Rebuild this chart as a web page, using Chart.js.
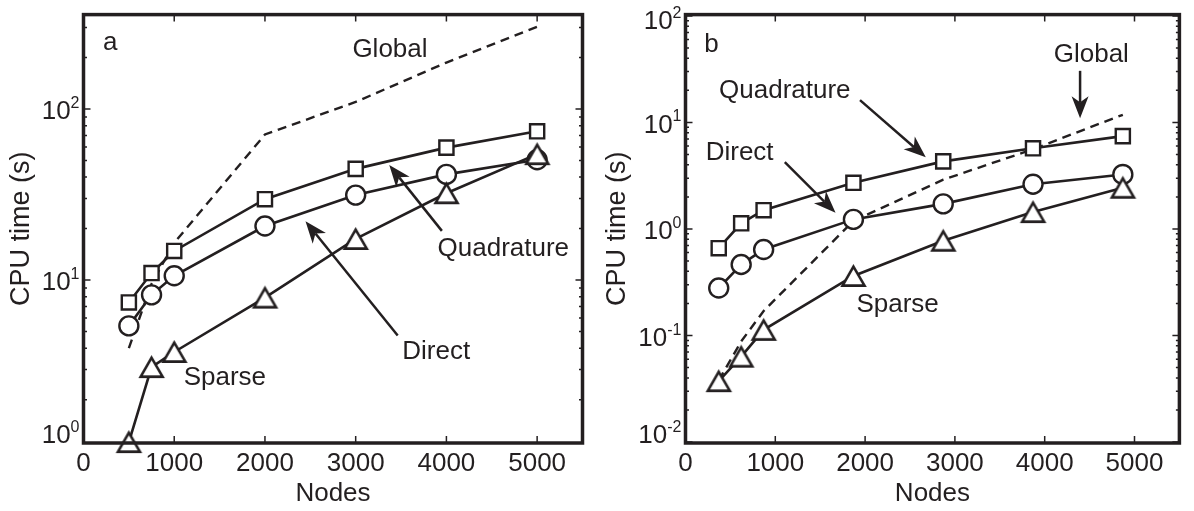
<!DOCTYPE html>
<html>
<head>
<meta charset="utf-8">
<script src="https://cdn.jsdelivr.net/npm/chart.js@4.4.1/dist/chart.umd.min.js"></script>
<style>
  html, body { margin: 0; padding: 0; background: #fff; }
  #wrap { position: relative; width: 1194px; height: 511px; overflow: hidden; }
  canvas { position: absolute; top: 0; }
</style>
</head>
<body>
<div id="wrap">
  <canvas id="chartA" width="598" height="511" style="left:0"></canvas>
  <canvas id="chartB" width="594" height="511" style="left:600px"></canvas>
</div>
<script>
// panel a
const nodesA = [500, 750, 1000, 2000, 3000, 4000, 5000];
const quadratureA = [7.4, 11.0, 14.8, 29.7, 44.7, 59.5, 74.1];
const directA = [5.4, 8.2, 10.6, 20.7, 31.4, 41.5, 50.5];
const sparseA = [1.13, 3.1, 3.8, 7.9, 17.4, 32.2, 54.5];
const globalA = [4.0, 9.5, 16.5, 71, 110, 187, 303];

// panel b
const nodesB = [370, 620, 870, 1870, 2870, 3870, 4870];
const quadratureB = [0.66, 1.13, 1.50, 2.71, 4.31, 5.72, 7.44];
const directB = [0.279, 0.464, 0.641, 1.23, 1.72, 2.63, 3.25];
const sparseB = [0.0373, 0.0633, 0.113, 0.362, 0.776, 1.44, 2.44];
const globalB = [0.038, 0.088, 0.17, 1.19, 2.9, 5.6, 11.8];

const xTicks = [0, 1000, 2000, 3000, 4000, 5000];
const yTicksA = [1, 10, 100];
const yTicksB = [0.01, 0.1, 1, 10, 100];

// text and arrows, in data coordinates
const labelsA = [
  { text: "a", x: 294, y: 243 },
  { text: "Global", x: 3378, y: 222 },
  { text: "Quadrature", x: 4627, y: 15.2 },
  { text: "Direct", x: 3887, y: 3.81 },
  { text: "Sparse", x: 1558, y: 2.68 },
];
const arrowsA = [
  { from: [3950, 19.4], to: [3370, 47.1] },
  { from: [3463, 4.74], to: [2447, 22.1] },
];
const labelsB = [
  { text: "b", x: 290, y: 53.7 },
  { text: "Global", x: 4519, y: 43.4 },
  { text: "Quadrature", x: 1106, y: 20 },
  { text: "Direct", x: 603, y: 5.22 },
  { text: "Sparse", x: 2362, y: 0.196 },
];
const arrowsB = [
  { from: [4394, 30.5], to: [4394, 10.96] },
  { from: [1943, 16.2], to: [2676, 4.7] },
  { from: [1106, 4.23], to: [1671, 1.42] },
];

const INK = "#231f20";
const FONT = "'Liberation Sans', Arial, sans-serif";
Chart.defaults.font.family = FONT;
Chart.defaults.color = INK;

function triangleMarker(w, h, lw) {
  const pad = lw + 2;
  const c = document.createElement("canvas");
  c.width = w + pad * 2;
  c.height = h + pad * 2;
  const g = c.getContext("2d");
  g.lineWidth = lw;
  g.strokeStyle = INK;
  g.fillStyle = "#fff";
  g.beginPath();
  g.moveTo(c.width / 2, pad);
  g.lineTo(pad + w, pad + h);
  g.lineTo(pad, pad + h);
  g.closePath();
  g.fill();
  g.stroke();
  return c;
}
const tri = triangleMarker(22, 19, 2.6);

function xy(xs, ys) {
  return xs.map((x, i) => ({ x: x, y: ys[i] }));
}

function drawArrow(ctx, x1, y1, x2, y2) {
  const a = Math.atan2(y2 - y1, x2 - x1);
  const len = 22, half = 8.5;
  const bx = x2 - Math.cos(a) * len, by = y2 - Math.sin(a) * len;
  const nx = x2 - Math.cos(a) * len * 0.72, ny = y2 - Math.sin(a) * len * 0.72;
  ctx.beginPath();
  ctx.moveTo(x1, y1);
  ctx.lineTo(nx, ny);
  ctx.lineWidth = 2.5;
  ctx.stroke();
  ctx.beginPath();
  ctx.moveTo(x2, y2);
  ctx.lineTo(bx - Math.sin(a) * half, by + Math.cos(a) * half);
  ctx.lineTo(nx, ny);
  ctx.lineTo(bx + Math.sin(a) * half, by - Math.cos(a) * half);
  ctx.closePath();
  ctx.fill();
}

const frame = {
  id: "frame",
  afterDatasetsDraw(chart, args, opts) {
    const { ctx, chartArea: ca, scales } = chart;
    const x = scales.x, y = scales.y;
    ctx.save();
    ctx.strokeStyle = INK;
    ctx.lineWidth = 1.5;
    ctx.beginPath();
    xTicks.forEach((v) => {
      const px = x.getPixelForValue(v);
      ctx.moveTo(px, ca.bottom); ctx.lineTo(px, ca.bottom - 7);
      ctx.moveTo(px, ca.top); ctx.lineTo(px, ca.top + 7);
    });
    const d0 = Math.floor(Math.log10(y.min)), d1 = Math.ceil(Math.log10(y.max));
    for (let d = d0; d <= d1; d++) {
      for (let k = 1; k <= 9; k++) {
        const v = k * Math.pow(10, d);
        if (v < y.min || v > y.max) continue;
        const py = y.getPixelForValue(v);
        const l = k === 1 ? 7 : 3.5;
        ctx.moveTo(ca.left, py); ctx.lineTo(ca.left + l, py);
        ctx.moveTo(ca.right, py); ctx.lineTo(ca.right - l, py);
      }
    }
    ctx.stroke();
    ctx.lineWidth = 3.5;
    ctx.strokeRect(ca.left, ca.top, ca.right - ca.left, ca.bottom - ca.top);
    ctx.restore();
  },
  afterDraw(chart, args, opts) {
    const { ctx, chartArea: ca, scales } = chart;
    const x = scales.x, y = scales.y;
    ctx.save();
    ctx.fillStyle = INK;
    ctx.strokeStyle = INK;
    // y tick labels as 10 with exponent
    opts.yTicks.forEach((v) => {
      let cy = y.getPixelForValue(v) + 1;
      cy = Math.max(ca.top + 5, Math.min(ca.bottom - 9, cy));
      const exp = String(Math.round(Math.log10(v)));
      ctx.font = "16px " + FONT;
      const ew = ctx.measureText(exp).width;
      ctx.font = "26px " + FONT;
      const bw = ctx.measureText("10").width;
      const xr = ca.left - 4;
      ctx.textAlign = "left";
      ctx.textBaseline = "alphabetic";
      ctx.fillText("10", xr - ew - bw, cy + 9.3);
      ctx.font = "16px " + FONT;
      ctx.fillText(exp, xr - ew, cy - 2);
    });
    ctx.font = "26px " + FONT;
    ctx.textAlign = "center";
    ctx.textBaseline = "middle";
    opts.labels.forEach((t) => {
      ctx.fillText(t.text, x.getPixelForValue(t.x), y.getPixelForValue(t.y));
    });
    opts.arrows.forEach((a) => {
      drawArrow(ctx,
        x.getPixelForValue(a.from[0]), y.getPixelForValue(a.from[1]),
        x.getPixelForValue(a.to[0]), y.getPixelForValue(a.to[1]));
    });
    ctx.restore();
  },
};

function makeChart(id, nodes, quad, direct, sparse, glob, yMin, yMax, yWidth, padRight, yTicks, labels, arrows, titlePad) {
  const ctx = document.getElementById(id).getContext("2d");
  return new Chart(ctx, {
    type: "line",
    data: {
      datasets: [
        {
          data: xy(nodes, sparse), borderColor: INK, borderWidth: 2.6,
          pointStyle: tri, pointRadius: 12, clip: false,
        },
        {
          data: xy(nodes, direct), borderColor: INK, borderWidth: 2.6,
          pointStyle: "circle", pointRadius: 9.5, pointBorderWidth: 2.4,
          pointBackgroundColor: "#fff", pointBorderColor: INK, clip: false,
        },
        {
          data: xy(nodes, quad), borderColor: INK, borderWidth: 2.6,
          pointStyle: "rect", pointRadius: 10, pointBorderWidth: 2.4,
          pointBackgroundColor: "#fff", pointBorderColor: INK, clip: false,
        },
        {
          data: xy(nodes, glob), borderColor: INK, borderWidth: 2.4,
          borderDash: [9, 6], pointRadius: 0, clip: false,
        },
      ],
    },
    options: {
      responsive: false,
      animation: false,
      layout: { padding: { top: 6, right: padRight, left: 0, bottom: 0 } },
      plugins: {
        legend: { display: false },
        tooltip: { enabled: false },
        frame: { yTicks: yTicks, labels: labels, arrows: arrows },
      },
      scales: {
        x: {
          type: "linear", min: 0, max: 5500,
          afterBuildTicks: (s) => { s.ticks = xTicks.map((v) => ({ value: v })); },
          afterFit: (s) => { s.height = 68; },
          grid: { display: false, drawTicks: false },
          border: { display: false },
          ticks: { font: { size: 26 }, padding: 5, color: INK, maxRotation: 0, callback: (v) => String(v) },
          title: { display: true, text: "Nodes", font: { size: 26 }, padding: { top: 0, bottom: 2 }, color: INK },
        },
        y: {
          type: "logarithmic", min: yMin, max: yMax,
          afterFit: (s) => { s.width = yWidth; },
          grid: { display: false, drawTicks: false },
          border: { display: false },
          ticks: { display: false },
          title: { display: true, text: "CPU time (s)", font: { size: 27 }, padding: { top: titlePad, bottom: 0 }, color: INK },
        },
      },
    },
    plugins: [frame],
  });
}

makeChart("chartA", nodesA, quadratureA, directA, sparseA, globalA,
  1.116, 356.6, 83.5, 15.5, yTicksA, labelsA, arrowsA, 5);
makeChart("chartB", nodesB, quadratureB, directB, sparseB, globalB,
  0.0098, 102.8, 85.5, 12, yTicksB, labelsB, arrowsB, 1.5);
</script>
</body>
</html>
